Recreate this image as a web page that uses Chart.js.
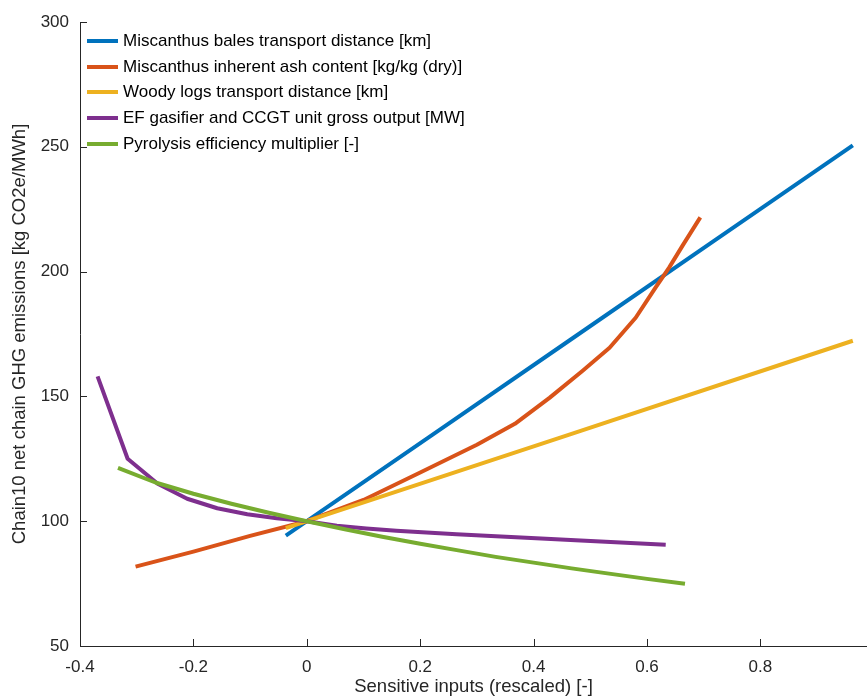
<!DOCTYPE html>
<html>
<head>
<meta charset="utf-8">
<script src="https://cdn.jsdelivr.net/npm/chart.js@4/dist/chart.umd.min.js"></script>
<style>
  body { margin: 0; background: #fff; overflow: hidden; }
  #wrap { position: relative; width: 867px; height: 698px; }
  #legend { position: absolute; font-family: "Liberation Sans", Arial, sans-serif; font-size: 17px; color: #000; }
  #legend .row { display: flex; align-items: center; height: 25.8px; white-space: nowrap; }
  #legend .swatch { width: 31px; height: 4px; margin-right: 5px; }
</style>
</head>
<body>
<div id="wrap">
  <canvas id="chart"></canvas>
  <div id="legend"></div>
</div>
<script>
// series names
const seriesNames = [
    'Miscanthus bales transport distance [km]',
    'Miscanthus inherent ash content [kg/kg (dry)]',
    'Woody logs transport distance [km]',
    'EF gasifier and CCGT unit gross output [MW]',
    'Pyrolysis efficiency multiplier [-]'
];
const seriesColors = ['#0072BD', '#D95319', '#EDB120', '#7E2F8E', '#77AC30'];

// values
const balesX = [-0.037, 0, 0.213, 0.463, 0.713, 0.963];
const balesY = [94.2, 100, 133.3, 172.4, 211.5, 250.6];

const ashX = [-0.302, -0.2, -0.1, 0, 0.1, 0.2, 0.3, 0.367, 0.428, 0.486, 0.534, 0.58, 0.615, 0.639, 0.663, 0.694];
const ashY = [81.8, 87.8, 94.1, 100, 108.5, 119.5, 130.6, 139, 149.4, 160.2, 169.5, 181.5, 193.6, 201.6, 210.5, 221.7];

const logsX = [-0.037, 0, 0.463, 0.963];
const logsY = [97.2, 100, 134.7, 172.3];

const gasX = [-0.369, -0.316, -0.263, -0.211, -0.158, -0.105, -0.053, 0, 0.053, 0.105, 0.158, 0.211, 0.264, 0.316, 0.369, 0.422, 0.474, 0.527, 0.58, 0.633];
const gasY = [158, 125, 115, 109, 105.2, 102.8, 101.2, 100, 98.2, 97.1, 96.2, 95.5, 94.8, 94.2, 93.6, 93.0, 92.4, 91.8, 91.2, 90.6];

const pyroX = [-0.333, -0.267, -0.2, -0.133, -0.067, 0, 0.067, 0.133, 0.2, 0.267, 0.333, 0.4, 0.467, 0.533, 0.6, 0.667];
const pyroY = [121.4, 115.5, 111, 107, 103.4, 100, 96.8, 93.8, 91, 88.3, 85.7, 83.4, 81.1, 79, 76.9, 74.9];

const xTicksStep = 0.2;
const yTicksStep = 50;

function toPoints(xs, ys) {
    return xs.map((x, i) => ({ x: x, y: ys[i] }));
}

const allX = [balesX, ashX, logsX, gasX, pyroX];
const allY = [balesY, ashY, logsY, gasY, pyroY];

const datasets = seriesNames.map((name, i) => ({
    label: name,
    data: toPoints(allX[i], allY[i]),
    borderColor: seriesColors[i],
    backgroundColor: seriesColors[i],
    borderWidth: 4,
    pointRadius: 0,
    tension: 0,
    fill: false,
    borderJoinStyle: 'round',
    order: seriesNames.length - i // later series drawn on top, like MATLAB
}));

const axisColor = '#262626';
const fontFamily = '"Liberation Sans", Arial, sans-serif';
const tickFont = { family: fontFamily, size: 17 };
const titleFont = { family: fontFamily, size: 18.5 };

// MATLAB style tick marks pointing inward
const inwardTicks = {
    id: 'inwardTicks',
    afterDatasetsDraw(chart) {
        const ctx = chart.ctx;
        const area = chart.chartArea;
        ctx.save();
        ctx.strokeStyle = axisColor;
        ctx.lineWidth = 1;
        chart.scales.x.ticks.forEach(t => {
            const px = Math.round(chart.scales.x.getPixelForValue(t.value)) + 0.5;
            ctx.beginPath();
            ctx.moveTo(px, area.bottom);
            ctx.lineTo(px, area.bottom - 7);
            ctx.stroke();
        });
        chart.scales.y.ticks.forEach(t => {
            const py = Math.round(chart.scales.y.getPixelForValue(t.value)) + 0.5;
            ctx.beginPath();
            ctx.moveTo(area.left, py);
            ctx.lineTo(area.left + 7, py);
            ctx.stroke();
        });
        ctx.restore();
    }
};

// legend as html, placed inside the plot area at top-left
const htmlLegend = {
    id: 'htmlLegend',
    afterRender(chart) {
        const box = document.getElementById('legend');
        if (box.childElementCount === 0) {
            chart.data.datasets.forEach(ds => {
                const row = document.createElement('div');
                row.className = 'row';
                const sw = document.createElement('span');
                sw.className = 'swatch';
                sw.style.background = ds.borderColor;
                const txt = document.createElement('span');
                txt.textContent = ds.label;
                row.appendChild(sw);
                row.appendChild(txt);
                box.appendChild(row);
            });
        }
        box.style.left = (chart.chartArea.left + 7) + 'px';
        box.style.top = (chart.chartArea.top + 6) + 'px';
    }
};

new Chart(document.getElementById('chart'), {
    type: 'line',
    data: { datasets: datasets },
    plugins: [inwardTicks, htmlLegend],
    options: {
        responsive: true,
        maintainAspectRatio: false,
        animation: false,
        layout: { padding: { top: 22, right: 0, bottom: 0, left: 0 } },
        plugins: {
            legend: { display: false },
            tooltip: { enabled: false }
        },
        scales: {
            x: {
                type: 'linear',
                min: -0.4,
                max: 0.988,
                afterFit: scale => { scale.height = 52; },
                grid: { display: true, drawOnChartArea: false, drawTicks: false },
                border: { display: true, color: axisColor, width: 1 },
                ticks: { stepSize: xTicksStep, includeBounds: false, color: axisColor, font: tickFont, padding: 11, maxRotation: 0 },
                title: {
                    display: true,
                    text: 'Sensitive inputs (rescaled) [-]',
                    color: axisColor,
                    font: titleFont,
                    padding: { top: 0, bottom: 0 }
                }
            },
            y: {
                min: 50,
                max: 300,
                afterFit: scale => { scale.width = 80; },
                grid: { display: true, drawOnChartArea: false, drawTicks: false },
                border: { display: true, color: axisColor, width: 1 },
                ticks: { stepSize: yTicksStep, color: axisColor, font: tickFont, padding: 11 },
                title: {
                    display: true,
                    text: 'Chain10 net chain GHG emissions [kg CO2e/MWh]',
                    color: axisColor,
                    font: titleFont,
                    padding: { top: 9, bottom: 4 }
                }
            }
        }
    }
});
</script>
</body>
</html>
